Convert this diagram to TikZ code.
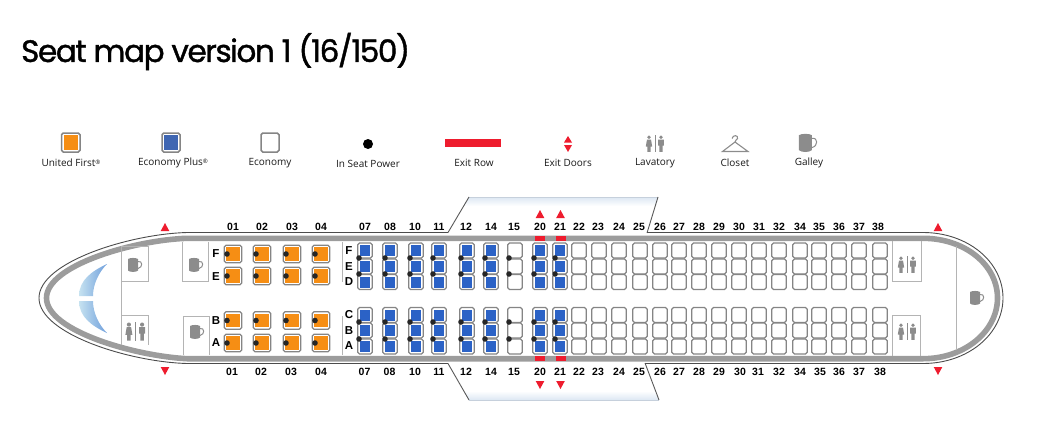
\documentclass[tikz,border=0pt]{standalone}
\usepackage{fontspec}
\setmainfont{Poppins}[FakeBold=1.3,LetterSpace=-4.5]
\newfontfamily\legendfont{Open Sans}
\newfontfamily\rowfont{Liberation Sans}
\definecolor{seatgrey}{HTML}{858585}
\definecolor{bandgrey}{HTML}{9C9C9C}
\definecolor{panelgrey}{HTML}{B4B4B4}
\definecolor{firstorange}{HTML}{F68E14}
\definecolor{plusblue}{HTML}{2B62C6}
\definecolor{legendblue}{HTML}{3F66B2}
\definecolor{exitred}{HTML}{EE1C2E}
\definecolor{iconsgrey}{HTML}{8C8C8C}
\definecolor{winglight}{HTML}{DCE7F3}
\definecolor{wingline}{HTML}{C6D0DC}
\definecolor{shieldl}{HTML}{C6E2F0}
\definecolor{shieldr}{HTML}{6F9FDC}
\tikzset{
  x=1pt,y=-1pt,
  rowlabel/.style={font=\rowfont\bfseries\fontsize{10.5}{12}\selectfont,text=black,inner sep=0pt},
  letterlabel/.style={font=\rowfont\bfseries\fontsize{11.5}{12}\selectfont,text=black,inner sep=0pt},
  legendlabel/.style={font=\legendfont\fontsize{10}{12}\selectfont,text=black!90,inner sep=0pt},
  titlelabel/.style={font=\fontsize{31}{36}\selectfont,text=black,inner sep=0pt,anchor=base west},
  seatshell/.style={draw=seatgrey,line width=1.3pt,rounded corners=1.8pt,fill=white},
  panel/.style={draw=panelgrey,line width=1pt},
  pwrdot/.style={fill=black!85,draw=none},
  exittri/.style={fill=exitred,draw=none},
  band/.style={draw=bandgrey,line width=5.6pt},
  skin/.style={draw=black!70,line width=0.9pt},
  wingedge/.style={draw=black!65,line width=0.9pt},
  mug/.pic={
    \fill[iconsgrey] (-7,-6) .. controls (-5,-7.4) and (1,-7.4) .. (3,-6) -- (3,5.5) .. controls (1,7.4) and (-5,7.4) .. (-7,5.5) -- cycle;
    \draw[iconsgrey,line width=1pt] (3,-3.5) .. controls (7.8,-4.6) and (8,2.5) .. (3,3.5);
  },
  lav/.pic={
    \draw[iconsgrey,line width=0.9pt] (0,-8.5) -- (0,8.5);
    \fill[iconsgrey] (-6,-6.3) circle (1.9);
    \fill[iconsgrey] (-8,-4) -- (-4,-4) -- (-2.8,3) -- (-4.4,3) -- (-4.4,8.3) -- (-7.6,8.3) -- (-7.6,3) -- (-9.2,3) -- cycle;
    \fill[iconsgrey] (6,-6.3) circle (1.9);
    \fill[iconsgrey] (3.2,-4) -- (8.8,-4) -- (8.8,2) -- (7.6,2) -- (7.6,8.3) -- (4.4,8.3) -- (4.4,2) -- (3.2,2) -- cycle;
  },
}
\newcommand{\seatat}[5]{% cx, cy, w, h, colour
  \path[seatshell] ({#1-#3/2},{#2-#4/2}) rectangle ({#1+#3/2},{#2+#4/2});
  \ifx#5n\else
    \fill[#5] ({#1-#3/2+2.2},{#2-#4/2+2}) rectangle ({#1+#3/2-1.8},{#2+#4/2-2});
  \fi
}
\begin{document}
\begin{tikzpicture}
\useasboundingbox (0,0) rectangle (1059,444);
\node[titlelabel] (title) at (21,62) {Seat map version 1 (16/150)};

% wings
\shade[top color=winglight,bottom color=white] (469,197) -- (658,197) -- (656,206) -- (464,206) -- cycle;
\shade[bottom color=winglight,top color=white] (464,391) -- (654,391) -- (659,400) -- (469,400) -- cycle;
\draw[draw=wingline] (469,197) -- (658,197);
\draw[draw=wingline] (469,400) -- (659,400);
\draw[wingedge] (448,232.5) -- (469,197);
\draw[wingedge] (658,197) -- (647,233);
\draw[wingedge] (448,363.5) -- (469,400);
\draw[wingedge] (659,400) -- (645,363);

% fuselage skin
\draw[skin] (448,232.5) -- (187,232.5) .. controls (130,234) and (39,262) .. (39,298)
  .. controls (39,334) and (130,362) .. (187,363.5) -- (448,363.5);
\draw[skin] (647,232.5) -- (923,232.5) .. controls (968,232.5) and (1003,262) .. (1003,298)
  .. controls (1003,334) and (968,363.5) .. (923,363.5) -- (645,363.5);
% grey band
\draw[band] (187,238.3) .. controls (135,240) and (46.5,265) .. (46.5,298)
  .. controls (46.5,331) and (135,356) .. (187,358.7) -- (923,358.7)
  .. controls (965,358.7) and (997.5,331) .. (997.5,298)
  .. controls (997.5,265) and (965,238.3) .. (923,238.3) -- cycle;

% windshield
\shade[left color=shieldl,right color=shieldr]
  (79,296) .. controls (79,280) and (92,271) .. (107,264) .. controls (99,272) and (93,284) .. (93,296) -- cycle;
\shade[left color=shieldl,right color=shieldr]
  (79,301) .. controls (79,317) and (92,326) .. (107,333) .. controls (99,325) and (93,313) .. (93,301) -- cycle;

% bulkheads and compartments
\draw[panel] (121,246) -- (121,345);
\draw[panel] (121,246) -- (148,246) -- (148,281) -- (121,281);
\draw[panel] (121,315) -- (148,315) -- (148,345);
\draw[panel] (182,242) -- (182,281) -- (208,281) -- (208,242);
\draw[panel] (183,355) -- (183,316) -- (209,316) -- (209,355);
\draw[panel] (342,242) -- (342,282);
\draw[panel] (342,316) -- (342,355);
\draw[panel] (892,241) -- (892,281) -- (921,281) -- (921,241);
\draw[panel] (892,356) -- (892,315) -- (920,315) -- (920,356);
\draw[panel] (956,246) -- (956,350);

% icons
\pic at (135,265) {mug};
\pic at (196,265) {mug};
\pic at (197,332) {mug};
\pic at (977,298) {mug};
\pic[scale=1.1] at (135.5,331.5) {lav};
\pic at (907,264.5) {lav};
\pic at (907,331.5) {lav};

% First class seats
\foreach \cx in {233,262,292,321}{
  \foreach \cy in {254,276,320.5,343}{
    \seatat{\cx}{\cy}{17.5}{17.5}{firstorange}
    \fill[pwrdot] (\cx-6,\cy) circle (2.8);
  }
}
% Economy plus
\foreach \cx in {365,390,416,439,467,491,540,560}{
  \foreach \cy in {250.5,266.5,282,315,330.5,346.5}{
    \seatat{\cx}{\cy}{14.5}{15}{plusblue}
  }
}
% Economy
\foreach \cx in {515,579,599,619,640,660,679,699,719,739,759,779,800,819,839,859,880}{
  \foreach \cy in {250.5,266.5,282,315,330.5,346.5}{
    \seatat{\cx}{\cy}{14.5}{15}{n}
  }
}
% seat power between seats
\foreach \cx in {359,385,410,433,461,485,509,534,555}{
  \foreach \cy in {258,274,322,339}{
    \fill[pwrdot] (\cx,\cy) circle (2.8);
  }
}

% exit rows
\foreach \xa in {535,556}{
  \fill[exitred] (\xa,236) rectangle (\xa+10,241);
  \fill[exitred] (\xa,356) rectangle (\xa+10,361);
}
% exit triangles
\foreach \cx/\ty in {165/223,540/210,560.5/210,938/223}{
  \fill[exittri] (\cx,\ty) -- (\cx+4.3,\ty+8) -- (\cx-4.3,\ty+8) -- cycle;
}
\foreach \cx/\ty in {165/375,540/389,560.5/389,938/375}{
  \fill[exittri] (\cx,\ty) -- (\cx+4.3,\ty-8) -- (\cx-4.3,\ty-8) -- cycle;
}

% row numbers
\foreach \n/\xt/\xb in {01/233/232,02/262/261,03/292/291,04/321/321,07/365/364.5,08/390/389.5,10/415/415,11/439/439,12/466/466,14/491/491,15/514/514,20/540/540,21/560/560,22/579/579,23/598/598,24/619/619,25/639/639,26/660/660,27/679/679,28/699/699,29/719/719,30/739/740,31/759/758,32/779/779,34/800/800,35/819/820,36/839/839,37/859/859,38/878/880}{
  \node[rowlabel] (top\n) at (\xt,227) {\n};
  \node[rowlabel] (bot\n) at (\xb,372) {\n};
}
% seat letters
\foreach \l/\y in {F/254,E/276.5,B/320.5,A/343}{
  \node[letterlabel] (first\l) at (216,\y) {\l};
}
\foreach \l/\y in {F/251,E/266.5,D/282,C/315,B/330.5,A/346}{
  \node[letterlabel] (plus\l) at (349,\y) {\l};
}

% legend
\path[seatshell,line width=1.5pt] (61.5,133) rectangle (80,152);
\fill[firstorange] (63.5,135) rectangle (78,150);
\path[seatshell,line width=1.5pt] (162,133) rectangle (180,152);
\fill[legendblue] (164,135) rectangle (178,150);
\path[seatshell,line width=1.5pt] (261,133) rectangle (279,152);
\fill[black] (368,144) circle (5);
\fill[exitred] (445,139) rectangle (501,147);
\fill[exittri] (568,136) -- (572,142.5) -- (564,142.5) -- cycle;
\fill[exittri] (568,152) -- (572,145) -- (564,145) -- cycle;
\pic at (655,143.5) {lav};
\draw[iconsgrey,line width=1.1pt] (732,138.5) .. controls (733,134.5) and (738.5,135) .. (737.5,138.5) .. controls (737,140) and (735,140) .. (735,142) -- (722.5,151.5) -- (748,151.5) -- (735,142);
\pic[scale=1.3] at (808,143) {mug};
\node[legendlabel] (lgfirst) at (71,163) {United First{\fontsize{6}{6}\selectfont\raisebox{2.5pt}{®}}};
\node[legendlabel] (lgplus) at (173,163) {Economy Plus{\fontsize{6}{6}\selectfont\raisebox{2.5pt}{®}}};
\node[legendlabel] (lgecon) at (270,163) {Economy};
\node[legendlabel] (lgpower) at (368,164) {In Seat Power};
\node[legendlabel] (lgrow) at (474,163) {Exit Row};
\node[legendlabel] (lgdoors) at (568,163) {Exit Doors};
\node[legendlabel] (lglav) at (655,163) {Lavatory};
\node[legendlabel] (lgcloset) at (735,163) {Closet};
\node[legendlabel] (lggalley) at (809,163) {Galley};
\end{tikzpicture}
\end{document}
